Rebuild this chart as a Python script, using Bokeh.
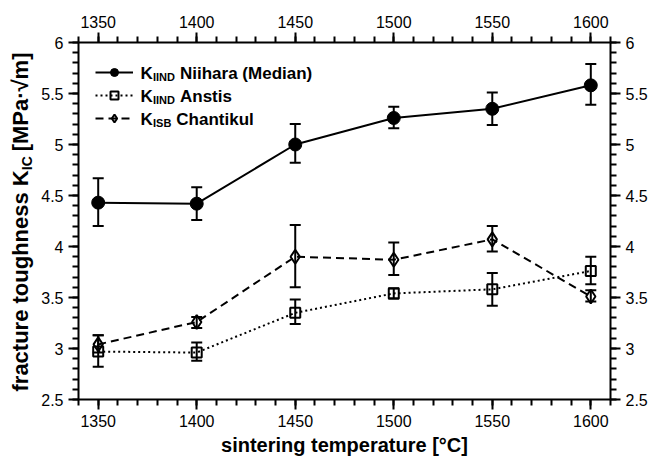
import math
from bokeh.plotting import figure
from bokeh.layouts import row
from bokeh.models import (ColumnDataSource, LinearAxis, Range1d, SingleIntervalTicker,
                          Whisker, TeeHead, Legend, LegendItem, Label, CustomJSTickFormatter)
from bokeh.embed import file_html
from bokeh.resources import INLINE

# ---- data ----
temps = [1350, 1400, 1450, 1500, 1550, 1600]
niihara = [4.43, 4.42, 5.00, 5.26, 5.35, 5.58]
niihara_lo = [4.20, 4.26, 4.82, 5.16, 5.19, 5.39]
niihara_hi = [4.67, 4.58, 5.20, 5.37, 5.51, 5.79]
anstis = [2.97, 2.96, 3.35, 3.54, 3.58, 3.76]
anstis_lo = [2.82, 2.88, 3.24, 3.49, 3.42, 3.63]
anstis_hi = [3.13, 3.06, 3.48, 3.59, 3.74, 3.90]
chantikul = [3.04, 3.26, 3.90, 3.87, 4.07, 3.51]
chantikul_lo = [2.96, 3.20, 3.60, 3.72, 3.95, 3.46]
chantikul_hi = [3.13, 3.31, 4.21, 4.04, 4.20, 3.57]

legend_subs = ["IIND", "IIND", "ISB"]
legend_names = ["Niihara (Median)", "Anstis", "Chantikul"]
x_title = "sintering temperature [°C]"
y_title = ("fracture toughness K", "IC", "[MPa·√m]")

FONT = "Liberation Sans"
LAB_W = 34
TOP = 42
FRAME_H = 357

p = figure(frame_width=532, frame_height=FRAME_H, x_range=Range1d(1340, 1610),
           y_range=Range1d(2.5, 6.0), output_backend="svg", toolbar_location=None,
           x_axis_location=None, y_axis_location=None,
           min_border_left=78 - LAB_W, min_border_top=TOP, min_border_right=0, min_border_bottom=0)
p.outline_line_color = None
p.xgrid.visible = False
p.ygrid.visible = False

yfmt = CustomJSTickFormatter(code="return String(Math.round(tick*10)/10);")


def style_axis(ax, is_x):
    ax.ticker = SingleIntervalTicker(interval=50 if is_x else 0.5, num_minor_ticks=5)
    ax.axis_line_width = 2
    ax.axis_line_color = "black"
    ax.major_tick_line_width = 2
    ax.minor_tick_line_width = 2
    ax.major_tick_out = 10
    ax.major_tick_in = 0
    ax.minor_tick_out = 6
    ax.minor_tick_in = 0
    ax.major_label_text_font = FONT
    ax.major_label_text_font_size = "16px"
    ax.major_label_text_color = "black"
    ax.major_label_standoff = 5
    if not is_x:
        ax.formatter = yfmt


bottom = LinearAxis(axis_label=x_title)
style_axis(bottom, True)
bottom.axis_label_text_font = FONT
bottom.axis_label_text_font_style = "bold"
bottom.axis_label_text_font_size = "20px"
bottom.axis_label_text_color = "black"
bottom.axis_label_standoff = 4
top = LinearAxis()
style_axis(top, True)
left = LinearAxis()
style_axis(left, False)
right = LinearAxis()
style_axis(right, False)
p.add_layout(bottom, "below")
p.add_layout(top, "above")
p.add_layout(left, "left")
p.add_layout(right, "right")

src_n = ColumnDataSource(dict(x=temps, y=niihara, lo=niihara_lo, hi=niihara_hi))
src_a = ColumnDataSource(dict(x=temps, y=anstis, lo=anstis_lo, hi=anstis_hi))
src_c = ColumnDataSource(dict(x=temps, y=chantikul, lo=chantikul_lo, hi=chantikul_hi))

for src in (src_n, src_a, src_c):
    w = Whisker(source=src, base="x", upper="hi", lower="lo", line_width=2, line_color="black",
                upper_head=TeeHead(size=11, line_width=2, line_color="black"),
                lower_head=TeeHead(size=11, line_width=2, line_color="black"))
    p.add_layout(w)

ln_n = p.line("x", "y", source=src_n, line_width=2, line_color="black")
mk_n = p.scatter("x", "y", source=src_n, marker="circle", size=13, fill_color="black", line_color="black")
ln_a = p.line("x", "y", source=src_a, line_width=2, line_color="black", line_dash="2 3")
mk_a = p.scatter("x", "y", source=src_a, marker="square", size=10, fill_color=None,
                 line_color="black", line_width=2)
ln_c = p.line("x", "y", source=src_c, line_width=2, line_color="black", line_dash="8 5")
mk_c = p.scatter("x", "y", source=src_c, marker="diamond", size=14, fill_color=None,
                 line_color="black", line_width=2)

legend = Legend(items=[LegendItem(label=" ", renderers=[ln_n, mk_n]),
                       LegendItem(label=" ", renderers=[ln_a, mk_a]),
                       LegendItem(label=" ", renderers=[ln_c, mk_c])],
                location=(17, 271), glyph_width=38, glyph_height=20, spacing=3,
                padding=0, margin=0, border_line_color=None, background_fill_alpha=0,
                label_text_font_size="6px", label_width=1)
p.add_layout(legend, "center")

# legend texts (screen units relative to frame, y up)
SUBW = {"I": 0.278, "N": 0.722, "D": 0.722, "S": 0.667, "B": 0.722}
for i, (sub, main) in enumerate(zip(legend_subs, legend_names)):
    base = FRAME_H - 31 - i * 23
    x0 = 62
    p.add_layout(Label(x=x0, y=base, x_units="screen", y_units="screen", text="K",
                       text_font=FONT, text_font_style="bold", text_font_size="17px",
                       text_color="black", text_baseline="alphabetic"))
    p.add_layout(Label(x=x0 + 12.5, y=base - 3, x_units="screen", y_units="screen", text=sub,
                       text_font=FONT, text_font_style="bold", text_font_size="11px",
                       text_color="black", text_baseline="alphabetic"))
    subw = sum(SUBW[c] for c in sub) * 11
    p.add_layout(Label(x=x0 + 12.5 + subw + 5, y=base, x_units="screen", y_units="screen",
                       text=main, text_font=FONT, text_font_style="bold", text_font_size="17px",
                       text_color="black", text_baseline="alphabetic"))

# ---- y-axis title figure: same vertical frame as the main plot, data y == page y ----
q = figure(frame_width=LAB_W, frame_height=FRAME_H, x_range=Range1d(0, LAB_W),
           y_range=Range1d(TOP + FRAME_H, TOP), output_backend="svg", toolbar_location=None,
           min_border_left=0, min_border_right=0, min_border_top=TOP, min_border_bottom=0,
           x_axis_location=None, y_axis_location=None)
q.outline_line_color = None
q.xgrid.visible = False
q.ygrid.visible = False

ang = math.pi / 2
start = 391.0               # page y where the title begins (bottom end)
w1 = 10.057 * 22            # "fracture toughness K"
w2 = 1.000 * 14             # "IC"
w3 = 4.438 * 22             # "[MPa·√m]"
gap = 5.5
centres = [start - w1 / 2, start - w1 - w2 / 2, start - w1 - w2 - gap - w3 / 2]
xs = [20, 26, 20]
sizes = ["22px", "14px", "22px"]
for txt, yc, xc, fs in zip(y_title, centres, xs, sizes):
    q.add_layout(Label(x=xc, y=yc, text=txt, angle=ang, text_font=FONT, text_font_style="bold",
                       text_font_size=fs, text_color="black", text_align="center",
                       text_baseline="middle"))

layout = row(q, p, spacing=0)
open("out.html", "w").write(file_html(layout, INLINE))
